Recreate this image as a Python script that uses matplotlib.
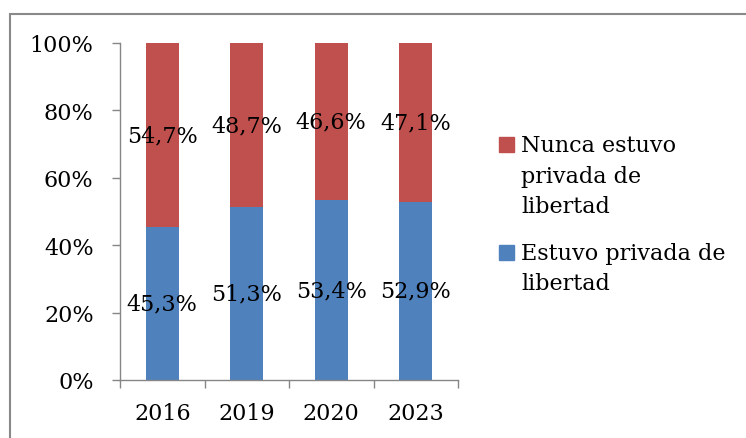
import matplotlib.pyplot as plt
from matplotlib.patches import Rectangle

years = ["2016", "2019", "2020", "2023"]
estuvo = [45.3, 51.3, 53.4, 52.9]
nunca = [54.7, 48.7, 46.6, 47.1]
series_names = ["Nunca estuvo\nprivada de\nlibertad", "Estuvo privada de\nlibertad"]
colors = {"nunca": "#C0504D", "estuvo": "#4F81BD"}
yticks = [0, 20, 40, 60, 80, 100]

plt.rcParams["font.family"] = ["DejaVu Serif"]
FS = 16
GRAY = "#868686"

fig = plt.figure(figsize=(7.46, 4.39), dpi=100)
ax = fig.add_axes([120 / 746, 1 - 381 / 439, (458 - 120) / 746, (381 - 44) / 439])

x = list(range(len(years)))
w = 0.39
ax.bar(x, [v / 100 for v in estuvo], width=w, color=colors["estuvo"], zorder=2)
ax.bar(x, [v / 100 for v in nunca], width=w, bottom=[v / 100 for v in estuvo],
       color=colors["nunca"], zorder=2)

for i in x:
    b = estuvo[i] / 100
    t = nunca[i] / 100
    ax.text(i, b / 2, f"{estuvo[i]:.1f}%".replace(".", ","), ha="center", va="center",
            fontsize=FS, zorder=3)
    ax.text(i, b + t / 2, f"{nunca[i]:.1f}%".replace(".", ","), ha="center", va="center",
            fontsize=FS, zorder=3)

ax.set_xlim(-0.5, len(years) - 0.5)
ax.set_ylim(0, 1)
ax.set_xticks(x)
ax.set_xticklabels(years, fontsize=FS)
ax.set_xticks([i - 0.5 for i in range(len(years) + 1)], minor=True)
ax.tick_params(axis="x", which="major", length=0, pad=16)
ax.tick_params(axis="x", which="minor", length=6, width=1, color=GRAY, direction="out")
ax.set_yticks([v / 100 for v in yticks])
ax.set_yticklabels([f"{v}%" for v in yticks], fontsize=FS)
ax.tick_params(axis="y", length=6, width=1, color=GRAY, pad=13)

for s in ["top", "right"]:
    ax.spines[s].set_visible(False)
for s in ["left", "bottom"]:
    ax.spines[s].set_color(GRAY)
    ax.spines[s].set_linewidth(1)

# chart border (right and bottom edges fall outside the image)
fig.patches.append(Rectangle((10 / 746, -0.1), 1.2, 1 - 15 / 439 + 0.1,
                             transform=fig.transFigure, fill=False,
                             edgecolor="#898989", linewidth=1.5))

# legend
leg_items = [(series_names[0], colors["nunca"], 138), (series_names[1], colors["estuvo"], 246)]
for label, col, ytop in leg_items:
    fig.patches.append(Rectangle((499 / 746, 1 - (ytop + 15) / 439), 15 / 746, 15 / 439,
                                 transform=fig.transFigure, color=col))
    fig.text(521 / 746, 1 - (ytop - 3) / 439, label, fontsize=FS, va="top", ha="left",
             linespacing=1.5)

fig.savefig("out.png", dpi=100)
